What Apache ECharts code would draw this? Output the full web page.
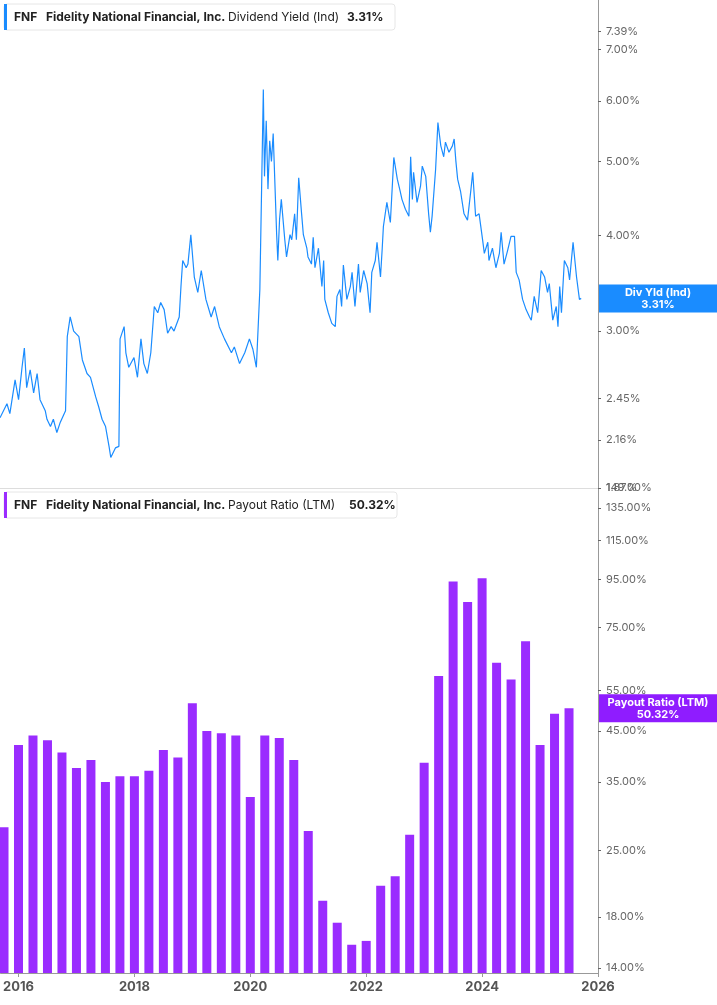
<!DOCTYPE html>
<html><head><meta charset="utf-8">
<script src="https://cdn.jsdelivr.net/npm/echarts@6/dist/echarts.min.js"></script>
<style>html,body{margin:0;padding:0;background:#fff}#c{width:717px;height:1005px}</style>
</head><body><div id="c"></div>
<script>
const yieldYears=[2015.69,2015.81,2015.86,2015.95,2016.01,2016.07,2016.11,2016.15,2016.21,2016.27,2016.33,2016.38,2016.47,2016.50,2016.56,2016.61,2016.67,2016.73,2016.82,2016.85,2016.90,2016.96,2017.05,2017.11,2017.19,2017.25,2017.34,2017.39,2017.45,2017.51,2017.57,2017.60,2017.68,2017.74,2017.76,2017.83,2017.86,2017.91,2018.00,2018.06,2018.12,2018.17,2018.23,2018.29,2018.35,2018.41,2018.46,2018.52,2018.58,2018.64,2018.69,2018.78,2018.81,2018.84,2018.90,2018.93,2018.98,2019.04,2019.10,2019.16,2019.24,2019.33,2019.39,2019.47,2019.56,2019.68,2019.73,2019.82,2019.91,2019.99,2020.05,2020.11,2020.17,2020.23,2020.25,2020.28,2020.31,2020.34,2020.37,2020.40,2020.46,2020.48,2020.51,2020.54,2020.60,2020.63,2020.69,
2020.72,2020.77,2020.80,2020.84,2020.89,2020.92,2020.98,2021.00,2021.06,2021.09,2021.12,2021.18,2021.24,2021.27,2021.29,2021.35,2021.41,2021.47,2021.50,2021.55,2021.58,2021.61,2021.67,2021.73,2021.76,2021.81,2021.87,2021.90,2021.96,2022.02,2022.07,2022.10,2022.16,2022.19,2022.25,2022.28,2022.30,2022.36,2022.42,2022.48,2022.54,2022.59,2022.62,2022.68,2022.74,2022.77,2022.80,2022.82,2022.88,2022.94,2022.97,2023.03,2023.08,2023.11,2023.14,2023.20,2023.24,2023.29,2023.34,2023.37,2023.43,2023.49,2023.52,2023.55,2023.58,2023.63,2023.69,2023.75,2023.81,2023.84,2023.89,2023.95,2024.01,2024.04,2024.10,2024.12,2024.18,2024.24,2024.30,2024.33,2024.38,2024.44,2024.50,2024.56,2024.59,2024.64,2024.70,2024.76,2024.82,2024.85,2024.90,2024.96,2025.02,2025.08,2025.13,2025.16,2025.22,2025.28,2025.31,2025.34,2025.37,2025.42,2025.48,2025.51,2025.57,2025.63,2025.68,2025.71];
const yieldValues=[2.31,2.41,2.34,2.59,2.44,2.69,2.85,2.53,2.67,2.49,2.64,2.44,2.36,2.30,2.25,2.30,2.21,2.28,2.36,2.95,3.13,3.00,2.95,2.75,2.64,2.61,2.46,2.39,2.30,2.25,2.12,2.05,2.11,2.12,2.93,3.04,2.81,2.69,2.77,2.61,2.93,2.72,2.64,2.81,3.23,3.17,3.27,3.20,2.98,3.04,3.00,3.13,3.43,3.71,3.63,3.67,4.01,3.53,3.37,3.60,3.30,3.13,3.23,3.04,2.93,2.81,2.86,2.72,2.81,2.93,2.84,2.69,3.40,6.21,4.78,5.65,4.60,5.32,5.00,5.44,4.01,3.71,4.20,4.46,3.95,3.75,4.01,
3.95,4.27,3.95,4.76,4.27,4.01,3.85,3.75,3.67,3.98,3.63,3.85,3.43,3.71,3.30,3.17,3.07,3.04,3.33,3.40,3.23,3.66,3.30,3.43,3.58,3.23,3.67,3.37,3.60,3.46,3.17,3.58,3.71,3.92,3.53,3.85,4.11,4.42,4.16,5.06,4.74,4.57,4.46,4.33,4.24,5.07,4.46,4.84,4.42,4.64,4.93,4.78,4.27,4.04,4.24,4.88,5.62,5.24,5.07,5.30,5.14,5.24,5.35,5.00,4.74,4.57,4.27,4.19,4.60,4.84,4.24,4.27,3.95,3.79,3.92,3.71,3.85,3.63,3.79,4.04,3.67,3.82,3.99,3.99,3.58,3.50,3.30,3.20,3.13,3.10,3.33,3.17,3.60,3.53,3.37,3.46,3.10,3.23,3.04,3.43,3.17,3.71,3.63,3.50,3.92,3.53,3.30,3.31];
const payoutQuarters=[2015.75,2016.0,2016.25,2016.5,2016.75,2017.0,2017.25,2017.5,2017.75,2018.0,2018.25,2018.5,2018.75,2019.0,2019.25,2019.5,2019.75,2020.0,2020.25,2020.5,2020.75,2021.0,2021.25,2021.5,2021.75,2022.0,2022.25,2022.5,2022.75,2023.0,2023.25,2023.5,2023.75,2024.0,2024.25,2024.5,2024.75,2025.0,2025.25,2025.5];
const payoutValues=[28,42,44,43,40.5,37.5,39,35,36,36,37,41,39.5,51.6,45,44.5,44,32.5,44,43.5,39,27.5,19.5,17.5,15.7,16,21,22,27,38.5,59,94,85,95.5,63,58,70,42,49,50.32];
const yieldTicks=[1.87,2.16,2.45,3.00,4.00,5.00,6.00,7.00,7.39];
const payoutTicks=[14,18,25,35,45,55,75,95,115,135,149];
const yearTicks=[2016,2018,2020,2022,2024,2026];

const blue='#1a8cff', purple='#9a2cff', gray='#666';
const chart=echarts.init(document.getElementById('c'));
const yAxisCommon={type:'log',logBase:10,position:'right',
  axisLine:{show:true,lineStyle:{color:'#999'}},
  splitLine:{show:false},minorTick:{show:false},
  axisLabel:{color:gray,fontSize:11,fontFamily:'Inter',formatter:v=>v.toFixed(2)+'%'},
  axisTick:{length:3,inside:false,lineStyle:{color:'#666'}}};
chart.setOption({
  animation:false,
  grid:[{left:0,right:119,top:0,height:488},{left:0,right:119,top:488,bottom:32}],
  xAxis:[
    {type:'value',gridIndex:0,min:2015.69,max:2026,axisLine:{show:true,lineStyle:{color:'#ddd'}},axisTick:{show:false},axisLabel:{show:false},splitLine:{show:false}},
    {type:'value',gridIndex:1,min:2015.69,max:2026,axisLine:{show:true,lineStyle:{color:'#999'}},
     axisTick:{show:true,customValues:yearTicks,length:4,lineStyle:{color:'#999'}},splitLine:{show:false},
     axisLabel:{customValues:yearTicks,color:'#555',fontWeight:'bold',fontSize:13,fontFamily:'Inter',formatter:v=>String(Math.round(v)),margin:8,showMaxLabel:true}}
  ],
  yAxis:[
    Object.assign({},yAxisCommon,{gridIndex:0,min:1.87,max:8.13,
      axisLabel:Object.assign({},yAxisCommon.axisLabel,{customValues:yieldTicks}),
      axisTick:Object.assign({},yAxisCommon.axisTick,{customValues:yieldTicks})}),
    Object.assign({},yAxisCommon,{gridIndex:1,min:13.66,max:149,
      axisLabel:Object.assign({},yAxisCommon.axisLabel,{customValues:payoutTicks}),
      axisTick:Object.assign({},yAxisCommon.axisTick,{customValues:payoutTicks})})
  ],
  series:[
    {type:'line',xAxisIndex:0,yAxisIndex:0,data:yieldYears.map((x,i)=>[x,yieldValues[i]]),showSymbol:false,lineStyle:{color:blue,width:1.2},itemStyle:{color:blue}},
    {type:'bar',xAxisIndex:1,yAxisIndex:1,data:payoutQuarters.map((x,i)=>[x,payoutValues[i]]),barWidth:9,itemStyle:{color:purple}}
  ]
});
function header(y,color,metric,val,w){
  return {type:'group',x:4,y:y,children:[
    {type:'rect',shape:{x:0,y:0,width:w,height:26,r:3},style:{fill:'#fff',stroke:'#e6e6e6'}},
    {type:'rect',shape:{x:0,y:0,width:3,height:26},style:{fill:color}},
    {type:'text',x:10,y:13,style:{text:'FNF',font:'bold 12px Inter',fill:'#222',verticalAlign:'middle'}},
    {type:'text',x:42,y:13,style:{text:'Fidelity National Financial, Inc.',font:'bold 12px Inter',fill:'#222',verticalAlign:'middle'}},
    {type:'text',x:224,y:13,style:{text:metric,font:'12px Inter',fill:'#222',verticalAlign:'middle'}},
    {type:'text',x:w-48,y:13,style:{text:val,font:'bold 12px Inter',fill:'#222',verticalAlign:'middle'}}
  ]};
}
function tag(yv,gi,color,l1,l2){
  const p=chart.convertToPixel({gridIndex:gi},[2026,yv]);
  return {type:'group',x:599,y:p[1]-14,children:[
    {type:'rect',shape:{x:0,y:0,width:118,height:28},style:{fill:color}},
    {type:'text',x:59,y:8,style:{text:l1,font:'bold 11px Inter',fill:'#fff',align:'center',verticalAlign:'middle'}},
    {type:'text',x:59,y:20,style:{text:l2,font:'bold 11px Inter',fill:'#fff',align:'center',verticalAlign:'middle'}}
  ]};
}
chart.setOption({graphic:[
  header(4,blue,'Dividend Yield (Ind)','3.31%',391),
  header(492,purple,'Payout Ratio (LTM)','50.32%',393),
  tag(3.31,0,blue,'Div Yld (Ind)','3.31%'),
  tag(50.32,1,'#8f1cff','Payout Ratio (LTM)','50.32%')
]});
</script></body></html>
